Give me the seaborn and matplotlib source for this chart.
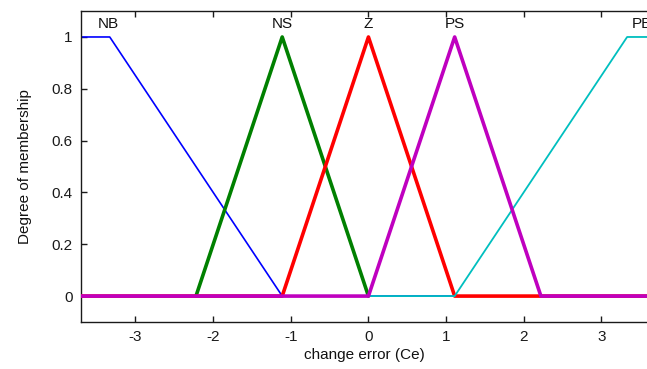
import matplotlib
matplotlib.use("Agg")
import matplotlib.pyplot as plt
import seaborn as sns
import pandas as pd

# Membership functions of the change error (Ce) input: breakpoints and degrees
names = ["NB", "NS", "Z", "PS", "PB"]
nb_x = [-3.7, -3.33, -1.11, 3.7]
nb_y = [1, 1, 0, 0]
ns_x = [-2.22, -1.11, 0.0]
ns_y = [0, 1, 0]
z_x = [-3.7, -1.11, 0.0, 1.11, 3.7]
z_y = [0, 0, 1, 0, 0]
ps_x = [-3.7, 0.0, 1.11, 2.22, 3.7]
ps_y = [0, 0, 1, 0, 0]
pb_x = [-3.7, 1.11, 3.33, 3.7]
pb_y = [0, 0, 1, 1]
label_x = [-3.35, -1.11, 0.0, 1.11, 3.52]
label_y = 1.05

xticks = [-3, -2, -1, 0, 1, 2, 3]
yticks = [0, 0.2, 0.4, 0.6, 0.8, 1]

sns.set_style("ticks")
plt.rcParams["font.family"] = ["Liberation Sans", "DejaVu Sans"]

fig = plt.figure(figsize=(6.47, 3.69), dpi=100)
ax = fig.add_axes([0.1252, 0.1274, 0.8765, 0.8426])

series = {
    "NB": (nb_x, nb_y, "#0000ff", 1.2),
    "NS": (ns_x, ns_y, "#008000", 2.6),
    "Z": (z_x, z_y, "#ff0000", 2.6),
    "PB": (pb_x, pb_y, "#00bfbf", 1.3),
    "PS": (ps_x, ps_y, "#bf00bf", 2.6),
}
for i, (name, (xs, ys, col, lw)) in enumerate(series.items()):
    df = pd.DataFrame({"x": xs, "y": ys})
    sns.lineplot(data=df, x="x", y="y", ax=ax, color=col, linewidth=lw,
                 sort=False, estimator=None, zorder=2 + i)

for name, lx in zip(names, label_x):
    ax.text(lx, label_y, name, ha="center", va="center", fontsize=11,
            color="#111111", clip_on=False)

ax.set_xlim(-3.7, 3.6)
ax.set_ylim(-0.1, 1.1)
ax.set_xticks(xticks)
ax.set_xticklabels([str(t) for t in xticks])
ax.set_yticks(yticks)
ax.set_yticklabels(["0", "0.2", "0.4", "0.6", "0.8", "1"])
ax.tick_params(direction="in", length=4, width=1, labelsize=11,
               top=True, right=False, colors="#1a1a1a", pad=6)
ax.set_xlabel("change error (Ce)", fontsize=11, color="#111111", labelpad=3)
ax.set_ylabel("Degree of membership", fontsize=11, color="#111111", labelpad=14)
for side in ["left", "bottom", "top"]:
    ax.spines[side].set_visible(True)
    ax.spines[side].set_color("#1a1a1a")
    ax.spines[side].set_linewidth(1.0)
ax.spines["right"].set_visible(False)

fig.savefig("out.png", dpi=100)
